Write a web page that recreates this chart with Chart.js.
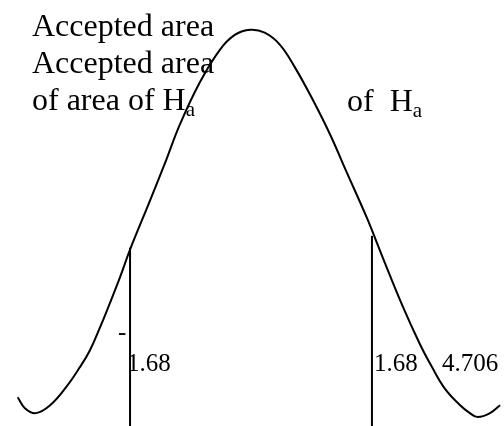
<!DOCTYPE html>
<html>
<head>
<meta charset="utf-8">
<script src="https://cdn.jsdelivr.net/npm/chart.js@4.4.1/dist/chart.umd.min.js"></script>
<style>
  html, body { margin: 0; padding: 0; background: #fff; }
  #wrap { width: 504px; height: 426px; }
</style>
</head>
<body>
<div id="wrap"><canvas id="chart" width="504" height="426"></canvas></div>
<script>
// curve (z, density)
const curveZ = [-3.24, -3.14, -2.99, -2.79, -2.56, -2.38, -2.24, -2.10, -1.96, -1.82,
  -1.68, -1.40, -1.17, -0.99, -0.71, -0.43, -0.22, -0.01, 0.19, 0.40, 0.61, 0.86,
  1.10, 1.33, 1.61, 1.83, 2.10, 2.35, 2.51, 2.69, 2.89, 3.04, 3.15, 3.32, 3.46];
const curveY = [0.029, 0.018, 0.013, 0.021, 0.040, 0.059, 0.076, 0.099, 0.124, 0.150,
  0.178, 0.228, 0.270, 0.304, 0.347, 0.380, 0.395, 0.400, 0.397, 0.385, 0.362, 0.329,
  0.294, 0.256, 0.210, 0.170, 0.122, 0.082, 0.060, 0.038, 0.022, 0.013, 0.009, 0.013, 0.021];

const critValues = [-1.68, 1.68];
const critTops = [0.180, 0.192];

const textLines = ['Accepted area', 'Accepted area', 'of area of H'];
const rightLabel = 'of  H';
const subLabel = 'a';
const critLabels = ['1.68', '1.68', '4.706'];

const curvePts = curveZ.map((z, i) => ({ x: z, y: curveY[i] }));

const datasets = [{
  data: curvePts,
  borderColor: '#000',
  borderWidth: 2,
  pointRadius: 0,
  tension: 0.4,
  fill: false
}];
critValues.forEach((v, i) => {
  datasets.push({
    data: [{ x: v, y: 0 }, { x: v, y: critTops[i] }],
    borderColor: '#000',
    borderWidth: 2,
    pointRadius: 0,
    tension: 0,
    fill: false
  });
});

const labelsPlugin = {
  id: 'labels',
  afterDraw(chart) {
    const ctx = chart.ctx;
    ctx.save();
    ctx.fillStyle = '#000';
    ctx.textBaseline = 'alphabetic';
    ctx.textAlign = 'left';
    ctx.font = '32px "Liberation Serif"';
    ctx.fillText(textLines[0], 32, 36);
    ctx.fillText(textLines[1], 32, 73);
    ctx.fillText(textLines[2], 32, 110);
    const w = ctx.measureText(textLines[2]).width;
    ctx.fillText(rightLabel, 347, 111);
    const w2 = ctx.measureText(rightLabel).width;
    ctx.font = '21px "Liberation Serif"';
    ctx.fillText(subLabel, 32 + w, 116);
    ctx.fillText(subLabel, 347 + w2, 117);

    ctx.font = '25px "Liberation Serif"';
    ctx.fillText('-', 118, 340);
    ctx.fillText(critLabels[0], 127, 371);
    ctx.fillText(critLabels[1], 374, 371);
    ctx.fillText(critLabels[2], 442, 371);
    ctx.restore();
  }
};

new Chart(document.getElementById('chart'), {
  type: 'line',
  data: { datasets },
  options: {
    responsive: false,
    animation: false,
    layout: { padding: 0 },
    plugins: { legend: { display: false }, tooltip: { enabled: false } },
    scales: {
      x: { type: 'linear', display: false, min: -3.486, max: 3.514 },
      y: { display: false, min: 0, max: 0.43 }
    }
  },
  plugins: [labelsPlugin]
});
</script>
</body>
</html>
